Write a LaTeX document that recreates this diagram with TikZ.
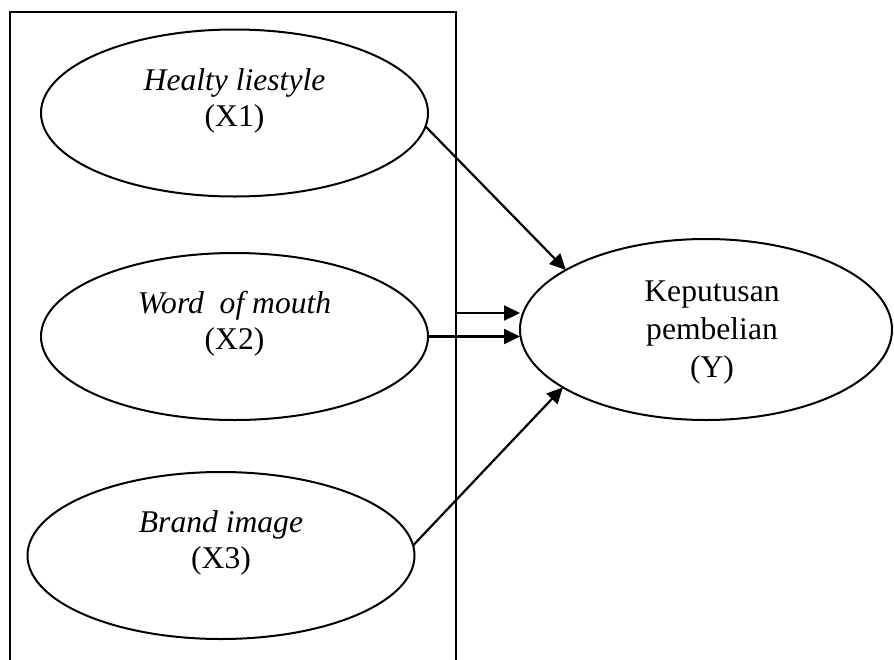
\documentclass[tikz,border=0pt]{standalone}
\usepackage{fontspec}
\setmainfont{Liberation Serif}
\usetikzlibrary{shapes.geometric,arrows.meta,calc}
\tikzset{
    var/.style={draw, ellipse, line width=1pt, inner sep=0pt, outer sep=0pt,
        minimum width=193.5pt, minimum height=83.5pt},
    lbl/.style={align=center, anchor=base, inner sep=0pt,
        font=\fontsize{15.8}{18}\selectfont},
    link/.style={-{Triangle[length=8pt,width=7.5pt]}, line width=1.1pt},
}

\begin{document}
\begin{tikzpicture}[x=0.5pt, y=-0.5pt]
    \useasboundingbox (0,0) rectangle (894,659);
    % box round the X variables
    \draw[line width=1pt] (10,664) -- (10,12) -- (456,12) -- (456,664);
    \foreach \i/\cx/\cy/\lab in {1/234.5/113/Healty liestyle, 2/234.5/336.5/Word~ of mouth, 3/221/555.5/Brand image} {
        \node[var] (x\i) at (\cx,\cy) {};
        \node[lbl] (t\i) at (\cx,\cy+13) {\textit{\lab}\\(X\i)};
    }
    \node[var, minimum width=186pt, minimum height=90.5pt] (y) at (706,329.5) {};
    \node[lbl, font=\fontsize{15.8}{19}\selectfont] (ty) at (712,377) {Keputusan\\pembelian\\(Y)};
    \coordinate (c2) at (456,313);
    \draw[link] (x1.-4) -- (y.157);
    \draw[link] (c2) -- (c2 -| y.west);
    \draw[link] (x2.east) -- (x2.east -| y.west);
    \draw[link] (x3.3) -- (y.202);
\end{tikzpicture}
\end{document}
